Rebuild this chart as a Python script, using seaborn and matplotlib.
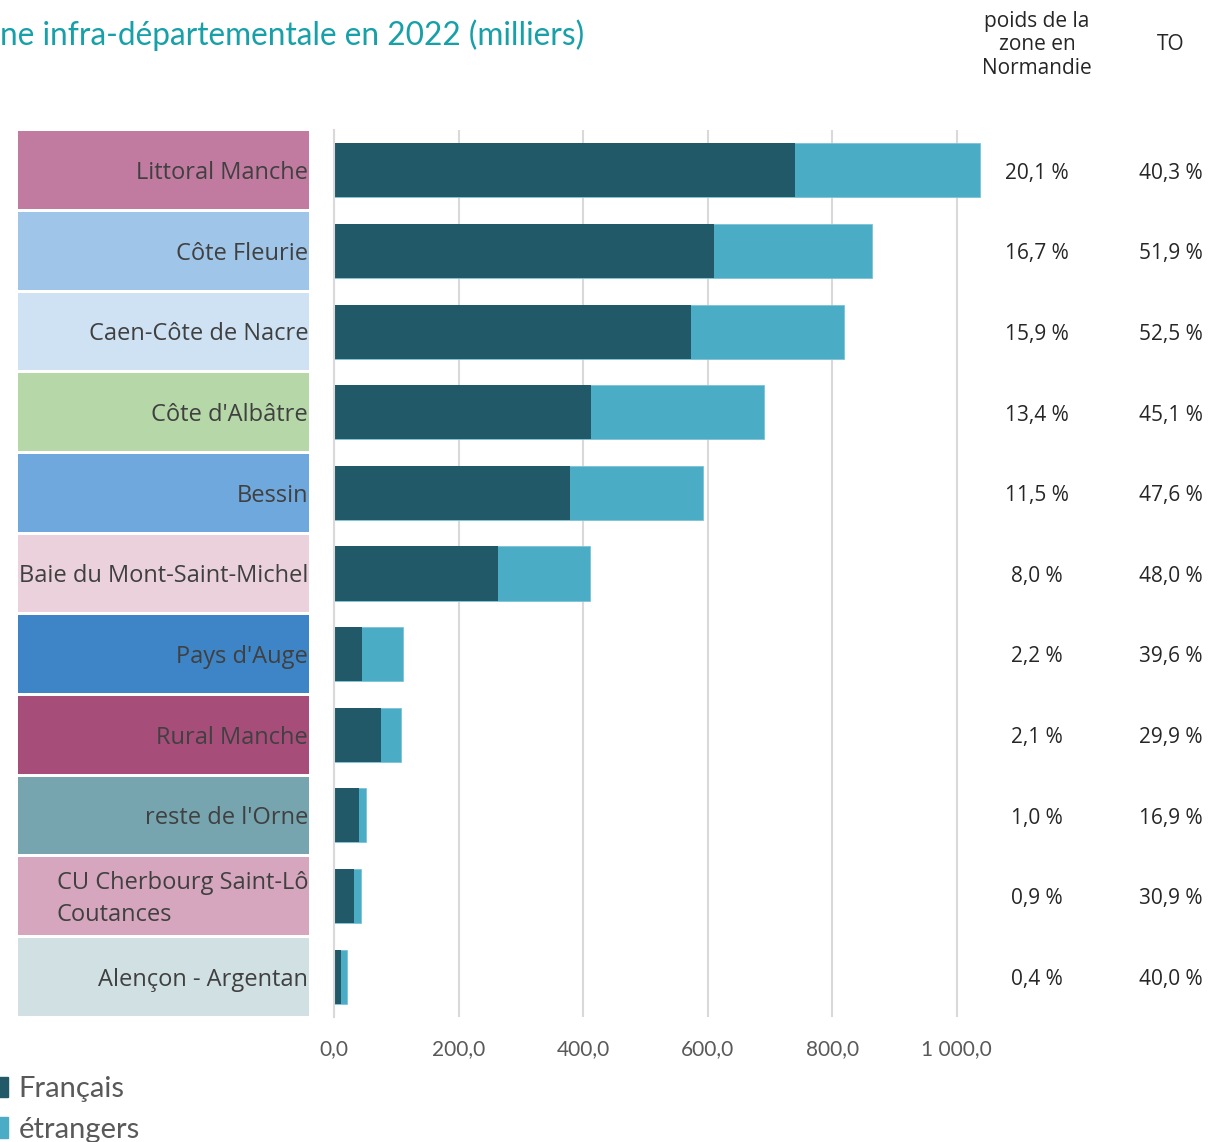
import matplotlib
matplotlib.use("Agg")
import matplotlib.pyplot as plt
import matplotlib.transforms as mtransforms
from matplotlib.patches import Patch
import seaborn as sns
import pandas as pd

# ---------------- data ----------------
categories = ["Littoral Manche", "Côte Fleurie", "Caen-Côte de Nacre", "Côte d'Albâtre",
              "Bessin", "Baie du Mont-Saint-Michel", "Pays d'Auge", "Rural Manche",
              "reste de l'Orne", "CU Cherbourg Saint-Lô\nCoutances", "Alençon - Argentan"]
francais = [741, 610, 573, 412, 379, 263, 45, 75, 40, 32, 11]
etrangers = [297, 254, 246, 278, 213, 148, 66, 32, 11, 12, 10]
poids = ["20,1 %", "16,7 %", "15,9 %", "13,4 %", "11,5 %", "8,0 %", "2,2 %", "2,1 %", "1,0 %", "0,9 %", "0,4 %"]
to_rate = ["40,3 %", "51,9 %", "52,5 %", "45,1 %", "47,6 %", "48,0 %", "39,6 %", "29,9 %", "16,9 %", "30,9 %", "40,0 %"]
box_colors = ["#C27BA0", "#9FC5E8", "#CFE2F3", "#B6D7A8", "#6FA8DC", "#EAD1DC",
              "#3D85C6", "#A64D79", "#76A5AF", "#D5A6BD", "#D0E0E3"]
xticks = [0, 200, 400, 600, 800, 1000]
series_names = ["Français", "étrangers"]
title_line = "ne infra-départementale en 2022 (milliers)"

df = pd.DataFrame({"zone": categories, "francais": francais, "etrangers": etrangers})
df["total"] = df["francais"] + df["etrangers"]

DARK = "#215968"
LIGHT = "#4BACC6"
TEXT = "#404040"

sns.set_theme(style="white")
plt.rcParams["font.family"] = ["Open Sans", "DejaVu Sans"]

W, H = 1209, 1142
fig = plt.figure(figsize=(W / 100, H / 100), dpi=100)

top_px, bot_px = 130, 1017
ax = fig.add_axes([334 / W, 1 - bot_px / H, (994 - 334) / W, (bot_px - top_px) / H])
ax_lab = fig.add_axes([18 / W, 1 - bot_px / H, (309 - 18) / W, (bot_px - top_px) / H])

# stacked bars
sns.barplot(data=df, x="total", y="zone", color=LIGHT, width=0.67, orient="h",
            ax=ax, saturation=1, edgecolor="#7CC3D6", linewidth=0.6)
sns.barplot(data=df, x="francais", y="zone", color=DARK, width=0.67, orient="h",
            ax=ax, saturation=1, linewidth=0)
ax.set_xlim(0, 1060)
ax.set_ylim(10.5, -0.5)
ax.set_xticks(xticks)
ax.set_xticklabels([f"{v:,.1f}".replace(",", " ").replace(".", ",") for v in xticks],
                   fontsize=15, color="#595959", family=["Lato", "DejaVu Sans"])
ax.tick_params(axis="x", length=0, pad=16)
ax.set_yticks([])
ax.set_xlabel("")
ax.set_ylabel("")
ax.grid(axis="x", color="#D9D9D9", lw=1.5)
ax.set_axisbelow(True)
for s in ["top", "right", "bottom"]:
    ax.spines[s].set_visible(False)
ax.spines["left"].set_color("#D9D9D9")
ax.spines["left"].set_linewidth(1.5)

# category label boxes
df_lab = pd.DataFrame({"zone": categories, "one": [1] * len(categories)})
sns.barplot(data=df_lab, x="one", y="zone", hue="zone", palette=box_colors, width=0.965,
            orient="h", ax=ax_lab, saturation=1, legend=False, linewidth=0)
ax_lab.set_xlim(0, 1)
ax_lab.set_ylim(10.5, -0.5)
ax_lab.axis("off")
dy = 0.035
for i, lab in enumerate(categories):
    ax_lab.text(0.997, i + dy, lab, ha="right", va="center", multialignment="left",
                fontsize=17, color=TEXT, linespacing=1.42)

# right-hand columns
tr = mtransforms.blended_transform_factory(fig.transFigure, ax.transData)
for i in range(len(categories)):
    ax.text(1037 / W, i + dy, poids[i], transform=tr, ha="center", va="center", fontsize=15, color="#262626")
    ax.text(1171 / W, i + dy, to_rate[i], transform=tr, ha="center", va="center", fontsize=15, color="#262626")
fig.text(1037 / W, 1 - 45 / H, "poids de la\nzone en\nNormandie", ha="center", va="center",
         fontsize=15, color="#262626", linespacing=1.15)
fig.text(1171 / W, 1 - 45 / H, "TO", ha="center", va="center", fontsize=15, color="#262626")

# title (visible part)
fig.text(0, 1 - 35 / H, title_line, ha="left", va="center", fontsize=22.8,
         color="#17A0A8", family=["Lato", "DejaVu Sans"])

# legend
handles = [Patch(color=DARK), Patch(color=LIGHT)]
leg = fig.legend(handles, series_names, loc="upper left", bbox_to_anchor=(-0.004, 1 - 1076 / H),
                 frameon=False, fontsize=21, handlelength=0.45, handleheight=0.7,
                 handletextpad=0.35, labelspacing=0.5, borderaxespad=0, borderpad=0)
for t in leg.get_texts():
    t.set_color("#595959")
    t.set_family(["Lato", "DejaVu Sans"])

fig.savefig("out.png", dpi=100)
